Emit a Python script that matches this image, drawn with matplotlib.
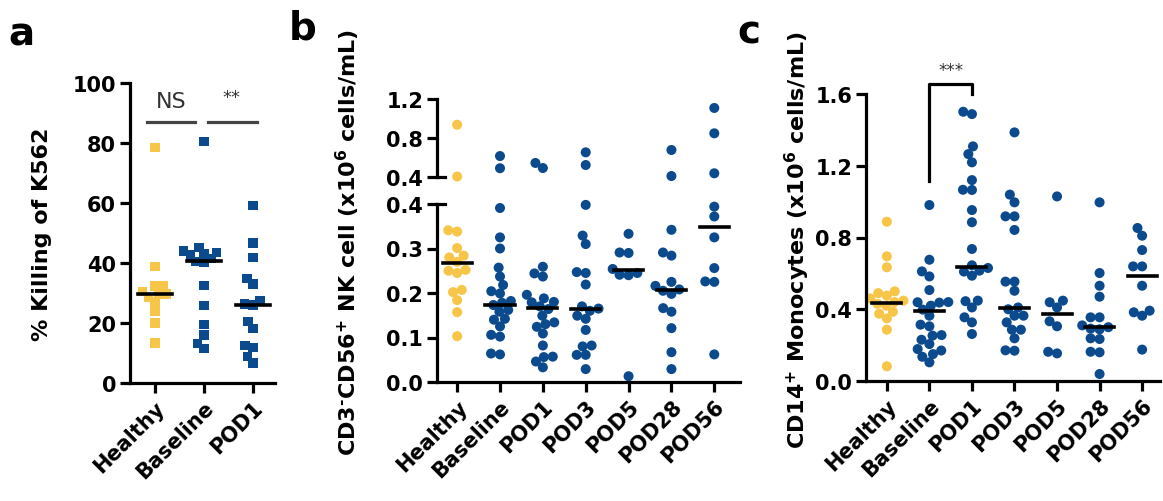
import numpy as np
import matplotlib
matplotlib.use("Agg")
import matplotlib.pyplot as plt

# ---------------- data ----------------
a_groups = ["Healthy", "Baseline", "POD1"]
a_healthy = [78.6, 38.9, 32.5, 32.3, 30.5, 29.7, 29.5, 28.5, 27.0, 24.0, 20.0, 13.3]
a_baseline = [80.6, 45.2, 44.0, 43.6, 43.0, 42.7, 41.5, 40.6, 40.2, 32.4, 25.8, 19.4, 16.0, 13.2, 11.6]
a_pod1 = [59.1, 46.7, 41.9, 34.9, 33.0, 27.4, 26.3, 26.0, 20.4, 18.2, 12.4, 11.9, 8.8, 6.7]
a_medians = [29.7, 40.6, 26.1]

bc_groups = ["Healthy", "Baseline", "POD1", "POD3", "POD5", "POD28", "POD56"]
b_healthy = [0.936, 0.405, 0.341, 0.338, 0.301, 0.284, 0.280, 0.270, 0.252, 0.250,
             0.245, 0.207, 0.202, 0.184, 0.157, 0.103]
b_baseline = [0.615, 0.490, 0.391, 0.325, 0.300, 0.257, 0.237, 0.218, 0.204, 0.199,
              0.182, 0.178, 0.173, 0.162, 0.158, 0.142, 0.140, 0.125, 0.106, 0.102,
              0.064, 0.062]
b_pod1 = [0.544, 0.492, 0.259, 0.244, 0.237, 0.196, 0.188, 0.180, 0.179, 0.170, 0.164,
          0.149, 0.134, 0.130, 0.124, 0.109, 0.082, 0.057, 0.056, 0.046, 0.033]
b_pod3 = [0.653, 0.523, 0.398, 0.329, 0.310, 0.247, 0.245, 0.219, 0.170, 0.165, 0.160,
          0.149, 0.142, 0.117, 0.082, 0.080, 0.061, 0.061, 0.029]
b_pod5 = [0.333, 0.291, 0.290, 0.254, 0.245, 0.241, 0.240, 0.013]
b_pod28 = [0.677, 0.410, 0.342, 0.291, 0.284, 0.225, 0.216, 0.208, 0.205, 0.198, 0.166,
           0.158, 0.121, 0.067, 0.029]
b_pod56 = [1.108, 0.848, 0.438, 0.394, 0.372, 0.325, 0.256, 0.226, 0.225, 0.062]
b_medians = [0.267, 0.174, 0.166, 0.163, 0.251, 0.206, 0.349]

c_healthy = [0.888, 0.695, 0.634, 0.500, 0.490, 0.476, 0.460, 0.448, 0.440, 0.430,
             0.420, 0.386, 0.375, 0.349, 0.286, 0.082]
c_baseline = [0.981, 0.676, 0.611, 0.583, 0.507, 0.440, 0.439, 0.437, 0.420, 0.398,
              0.364, 0.314, 0.305, 0.256, 0.253, 0.230, 0.206, 0.178, 0.170, 0.150,
              0.135, 0.104]
c_pod1 = [1.501, 1.488, 1.308, 1.265, 1.219, 1.120, 1.066, 1.065, 0.953, 0.885, 0.736,
          0.645, 0.630, 0.615, 0.610, 0.587, 0.448, 0.445, 0.410, 0.355, 0.327, 0.262]
c_pod3 = [1.386, 1.039, 0.996, 0.918, 0.918, 0.842, 0.554, 0.554, 0.503, 0.410, 0.400,
          0.364, 0.364, 0.327, 0.286, 0.286, 0.238, 0.171, 0.169]
c_pod5 = [1.029, 0.448, 0.439, 0.410, 0.333, 0.305, 0.163, 0.154]
c_pod28 = [0.996, 0.602, 0.531, 0.470, 0.355, 0.355, 0.310, 0.300, 0.292, 0.288, 0.238,
           0.234, 0.163, 0.160, 0.039]
c_pod56 = [0.853, 0.810, 0.730, 0.639, 0.639, 0.531, 0.392, 0.383, 0.364, 0.175]
c_medians = [0.433, 0.392, 0.637, 0.407, 0.372, 0.299, 0.585]

a_yticks = [0, 20, 40, 60, 80, 100]
b_low_yticks = [0.0, 0.1, 0.2, 0.3, 0.4]
b_up_yticks = [0.4, 0.8, 1.2]
c_yticks = [0.0, 0.4, 0.8, 1.2, 1.6]

# ---------------- style ----------------
YEL = "#F7C548"
BLU = "#0B4A8C"
plt.rcParams["font.family"] = ["DejaVu Sans"]
plt.rcParams["font.weight"] = "bold"
plt.rcParams["mathtext.default"] = "bf"
plt.rcParams["mathtext.fontset"] = "dejavusans"
LW = 2.3
TICKFS = 15

W, H = 1163, 502
fig = plt.figure(figsize=(W / 100, H / 100), dpi=100)


def fr(l, t, r, b):
    return [l / W, 1 - b / H, (r - l) / W, (b - t) / H]


def style(ax, bottom=True):
    for s in ["top", "right"]:
        ax.spines[s].set_visible(False)
    ax.spines["left"].set_linewidth(LW)
    ax.spines["bottom"].set_linewidth(LW)
    if not bottom:
        ax.spines["bottom"].set_visible(False)
    ax.tick_params(width=LW, length=7, labelsize=TICKFS, pad=3)


def swarm_offsets(ypx, d):
    order = np.argsort(ypx)
    placed = []
    offs = np.zeros(len(ypx))
    for i in order:
        y = ypx[i]
        cands = [0.0]
        for xo, yo in placed:
            dy = abs(y - yo)
            if dy < d:
                dx = np.sqrt(d * d - dy * dy)
                cands += [xo + dx, xo - dx]
        cands.sort(key=lambda c: (abs(c), c))
        chosen = cands[0]
        for c in cands:
            if all((c - xo) ** 2 + (y - yo) ** 2 >= d * d - 1e-6 for xo, yo in placed):
                chosen = c
                break
        placed.append((chosen, y))
        offs[i] = chosen
    return offs


def draw_group(ax_of, xi, vals, color, marker, size, d, px_per_unit):
    vals = np.asarray(vals, float)
    ypx = np.array([ax_of(v).transData.transform((0, v))[1] for v in vals])
    offs = swarm_offsets(ypx, d) / px_per_unit
    for v, o in zip(vals, offs):
        ax_of(v).scatter([xi + o], [v], s=size, marker=marker, color=color,
                         edgecolors="none", clip_on=False, zorder=2)


def xticks(ax, labels):
    ax.set_xticks(range(len(labels)))
    ax.set_xticklabels(labels, rotation=45, ha="right", va="top",
                       rotation_mode="anchor", fontsize=TICKFS)


# ---------------- panel a ----------------
axa = fig.add_axes(fr(130, 84, 275, 384))
style(axa)
axa.set_xlim(-0.51, 2.45)
axa.set_ylim(0, 100)
axa.set_yticks(a_yticks)
xticks(axa, a_groups)
ppu_a = 145 / (2.45 + 0.51)
for i, (vals, col) in enumerate(zip([a_healthy, a_baseline, a_pod1], [YEL, BLU, BLU])):
    draw_group(lambda v: axa, i, vals, col, "s", 44, 8.2, ppu_a)
    axa.plot([i - 0.34, i + 0.34], [a_medians[i]] * 2, color="k", lw=2.6, zorder=3)
axa.plot([-0.16, 0.82], [86.9, 86.9], color="#444444", lw=2.3, clip_on=False)
axa.plot([1.08, 2.08], [86.9, 86.9], color="#444444", lw=2.3, clip_on=False)
axa.text(0.33, 94, "NS", ha="center", va="center", fontsize=16, fontweight="normal",
         color="#333333")
axa.text(1.57, 98.5, "**", ha="center", va="top", fontsize=13, fontweight="normal",
         color="#333333")

# ---------------- panel b ----------------
axbl = fig.add_axes(fr(437, 205, 740, 383))
axbu = fig.add_axes(fr(437, 100, 740, 178))
style(axbl)
style(axbu, bottom=False)
for ax in (axbl, axbu):
    ax.set_xlim(-0.47, 6.6)
axbl.set_ylim(0, 0.4)
axbu.set_ylim(0.4, 1.2)
axbl.set_yticks(b_low_yticks)
axbl.set_yticklabels([f"{t:.1f}" for t in b_low_yticks])
axbu.set_yticks(b_up_yticks)
axbu.set_yticklabels([f"{t:.1f}" for t in b_up_yticks])
axbu.set_xticks([])
xticks(axbl, bc_groups)
axbu.plot([0, 0.028], [0, 0], transform=axbu.transAxes, color="k", lw=LW, clip_on=False)
axbl.plot([0, 0.028], [1, 1], transform=axbl.transAxes, color="k", lw=LW, clip_on=False)
ppu_b = 303 / (6.6 + 0.47)
b_all = [b_healthy, b_baseline, b_pod1, b_pod3, b_pod5, b_pod28, b_pod56]
b_axof = lambda v: axbu if v > 0.4 else axbl
for i, vals in enumerate(b_all):
    draw_group(b_axof, i, vals, YEL if i == 0 else BLU, "o", 52, 9.0, ppu_b)
    m = b_medians[i]
    b_axof(m).plot([i - 0.34, i + 0.34], [m, m], color="k", lw=2.6, zorder=3)

# ---------------- panel c ----------------
axc = fig.add_axes(fr(866, 95, 1160, 382))
style(axc)
axc.set_xlim(-0.49, 6.42)
axc.set_ylim(0, 1.6)
axc.set_yticks(c_yticks)
axc.set_yticklabels([f"{t:.1f}" for t in c_yticks])
xticks(axc, bc_groups)
ppu_c = 294 / (6.42 + 0.49)
c_all = [c_healthy, c_baseline, c_pod1, c_pod3, c_pod5, c_pod28, c_pod56]
for i, vals in enumerate(c_all):
    draw_group(lambda v: axc, i, vals, YEL if i == 0 else BLU, "o", 52, 9.0, ppu_c)
    axc.plot([i - 0.34, i + 0.34], [c_medians[i]] * 2, color="k", lw=2.6, zorder=3)
axc.plot([1, 1, 2, 2], [1.117, 1.655, 1.655, 1.6], color="k", lw=2.3, clip_on=False)
axc.text(1.5, 1.735, "***", ha="center", va="center", fontsize=12, fontweight="normal",
         color="#333333", clip_on=False)

# ---------------- labels ----------------
fig.text(42 / W, 1 - 234 / H, "% Killing of K562", rotation=90, ha="center",
         va="center", fontsize=16, fontweight="bold")
fig.text(348 / W, 1 - 242 / H, r"CD3$^{\text{-}}$CD56$^{+}$ NK cell (x10$^{6}$ cells/mL)",
         rotation=90, ha="center", va="center", fontsize=16, fontweight="bold")
fig.text(797 / W, 1 - 240 / H, r"CD14$^{+}$ Monocytes (x10$^{6}$ cells/mL)",
         rotation=90, ha="center", va="center", fontsize=16, fontweight="bold")

fig.text(8 / W, 1 - 45 / H, "a", fontsize=28, fontweight="bold", va="baseline")
fig.text(289 / W, 1 - 39 / H, "b", fontsize=28, fontweight="bold", va="baseline")
fig.text(737 / W, 1 - 43 / H, "c", fontsize=28, fontweight="bold", va="baseline")

fig.savefig("out.png", dpi=100)
